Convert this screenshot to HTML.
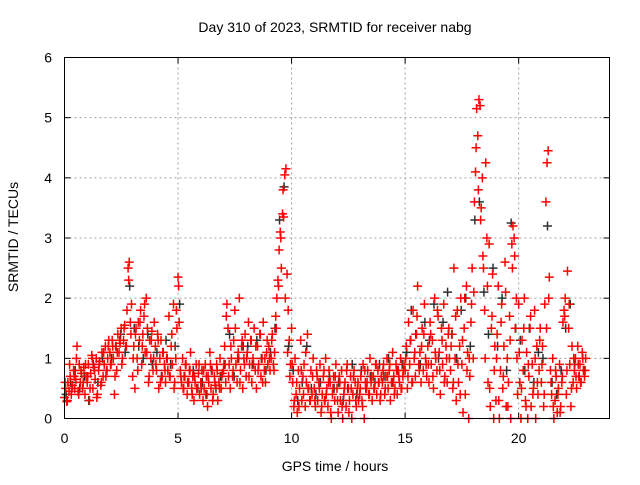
<!DOCTYPE html>
<html><head><meta charset="utf-8"><style>
body{margin:0;background:#fff}
svg text{font-family:"Liberation Sans",sans-serif;fill:#000}
</style></head><body>
<svg id="c" width="640" height="480">
<text x="335" y="32" font-size="14" text-anchor="middle">Day 310 of 2023, SRMTID for receiver nabg</text>
<text x="335" y="471" font-size="14" text-anchor="middle">GPS time / hours</text>
<text transform="translate(18,237) rotate(-90)" font-size="14" text-anchor="middle">SRMTID / TECUs</text>
<g id="grid"></g><g id="ticks"></g><g id="black"></g><g id="red"></g>
<rect x="64.5" y="57.5" width="545" height="361" fill="none" stroke="#000" stroke-width="1"/>
</svg>
<script>
const xTicks=[0,5,10,15,20];
const yTicks=[0,1,2,3,4,5,6];
const sampleInterval=0.05, red2Interval=0.1, blackInterval=0.2;
const redValues=[
[.35,.5,.28,.6,.45,.7,.4,.55,.8,.5,.65,1.2,.45,.9,.6,.75,.5,.85,.4,.7],
[.6,.9,.3,.75,1.05,.5,.85,.65,1.0,.4,.8,.95,.55,1.1,.7,.9,1.2,.8,1.0,1.3],
[1.1,.9,1.3,1.0,.4,1.2,.8,1.4,1.1,1.25,1.5,1.0,1.3,1.55,1.2,1.8,2.5,2.6,1.6,1.9],
[.7,1.2,.5,1.5,1.0,1.6,1.3,1.8,.9,1.4,1.7,1.1,2.0,1.5,.6,1.3,1.0,1.45,.8,1.6],
[1.2,.8,1.4,.5,1.0,1.3,.7,1.1,.9,.6,1.0,.8,1.7,.7,1.2,.9,1.9,.6,1.0,1.5],
[2.35,1.6,.8,.6,1.0,.5,.7,.9,.4,.6,.8,1.1,.5,.7,.3,.6,.9,.5,.75,.4],
[.6,.8,.3,.5,.9,.7,.2,.6,1.1,.5,.8,.4,.7,.55,.9,.3,.6,1.0,.5,.75],
[.8,1.2,.6,1.9,1.5,.9,.5,1.0,.7,1.3,1.8,.9,.6,1.1,2.0,.8,1.2,.5,1.0,1.4],
[.7,1.1,1.6,.9,1.3,.6,1.0,1.5,.8,.5,1.2,.9,1.4,.7,1.0,1.6,.8,.6,1.1,.9],
[1.2,.8,1.0,1.4,.9,1.1,1.7,2.0,2.3,2.8,3.1,2.5,3.4,3.35,4.05,4.15,2.4,1.8,1.3,.9],
[1.5,.6,.2,1.0,.4,.1,.8,.5,1.3,.3,.7,.9,.2,.6,1.4,.5,.3,.8,.4,1.0],
[.5,.2,.8,.3,.6,.9,.1,.4,.7,.3,1.0,.5,.2,.8,.6,.0,.4,.7,.3,.9],
[.5,.1,.7,.3,.8,.0,.4,.6,.2,.9,.5,.3,.7,.0,.4,.8,.6,.2,.5,.3],
[.4,.7,.3,.9,.0,.6,.5,.8,.4,1.0,.6,.3,.7,.5,.9,.4,.8,.6,.3,.7],
[.6,.9,.4,.7,1.0,.5,.8,.3,.6,1.1,.7,.5,.9,.4,.8,.6,1.0,.5,.7,.9],
[.8,1.2,.5,1.6,.9,1.3,.6,1.8,1.0,.7,1.4,2.2,.9,1.1,.6,1.5,.8,1.9,1.0,.7],
[1.2,.6,1.6,.9,1.3,.5,2.0,1.0,.8,1.7,1.1,.4,1.5,.9,1.9,.7,1.2,.6,1.4,1.0],
[.8,1.4,.5,2.5,1.0,.3,1.8,.6,1.2,2.0,.9,.1,1.5,.4,2.2,1.1,.0,.7,1.6,2.5],
[1.0,3.6,4.1,5.15,4.7,5.3,5.2,3.5,4.0,2.5,1.8,4.25,3.0,.6,2.9,.2,1.5,2.4,.0,1.2],
[.3,1.4,2.2,.0,.8,1.9,.5,1.2,2.6,.2,1.0,.6,1.7,.0,2.9,3.2,3.0,1.5,2.0,.4],
[1.9,.6,.0,1.3,.8,2.0,.3,1.1,.0,.7,1.5,.2,.9,.5,1.8,.0,1.2,.4,.8,1.5],
[.6,1.2,.2,1.9,3.6,4.25,4.45,2.35,.8,.4,1.0,.0,.3,.7,.1,.5,.9,.2,.6,1.6],
[1.8,2.0,.4,2.45,1.5,.9,.2,1.2,.6,.8,1.0,.5,1.2,.7,.9,.6,1.1,.8,.7,1.0]];
const red2Values=[
[.6,.3,.9,.5,.7,1.0,.4,.8,.6,.9],[.7,.5,1.0,.8,.35,.9,.6,1.1,.7,1.2],
[.9,1.2,.7,1.1,1.3,.9,1.5,1.2,2.3,1.4],[1.0,1.4,.8,1.6,1.2,1.9,1.1,.7,1.3,1.0],
[.9,1.3,.6,1.1,.8,1.0,.7,1.4,.5,1.8],[2.2,.7,.5,.9,.6,.8,.4,.7,.5,.9],
[.5,.8,.4,.7,.9,.3,.6,.8,.5,.7],[.9,1.7,.7,1.2,.8,1.5,1.0,.6,1.3,.9],
[1.0,.7,1.3,.9,1.2,.8,1.4,.6,1.0,1.3],[1.0,1.3,.8,1.5,2.2,3.0,3.8,2.0,1.1,.7],
[.9,.3,.6,.2,.8,.4,1.1,.5,.3,.7],[.3,.7,.5,.2,.8,.4,.6,.1,.5,.7],
[.3,.6,.2,.5,.8,.1,.5,.7,.3,.6],[.5,.2,.8,.6,.4,.7,.5,.9,.6,.4],
[.8,.5,.7,.9,.6,.4,.8,.7,.5,.8],[1.0,.7,1.3,.6,1.1,1.7,.8,1.2,1.4,.9],
[.9,1.4,.7,1.1,1.8,.8,1.3,.6,1.0,1.5],[1.2,.6,1.7,.9,.4,1.3,2.0,.8,1.0,1.9],
[2.1,4.5,3.8,3.3,2.7,1.0,2.2,.5,1.7,.8],[1.0,.3,1.6,.7,2.1,.2,1.3,2.5,2.7,1.0],
[1.1,.5,1.5,.2,.9,1.7,.4,1.0,.6,1.3],[.9,.4,1.5,2.0,.6,.2,.8,.4,.1,.7],
[1.7,.8,1.9,.5,1.0,.7,.9,.6,1.0,.8]];
const blackValues=[
[.4,.6,.8,.5,.7],[.3,.9,.6,1.0,.8],[1.0,1.2,1.4,1.1,2.2],[1.5,1.2,1.0,1.4,.9],
[1.1,.7,1.3,.9,1.2],[1.9,.7,.6,.8,.5],[.6,.4,.8,.5,.7],[.9,1.4,.7,1.0,1.2],
[1.2,.9,1.3,1.0,.8],[1.1,1.5,3.3,3.85,1.2],[.8,.3,.6,1.2,.5],[.4,.6,.3,.7,.5],
[.6,.3,.5,.9,.4],[.8,.5,.7,.6,.9],[.7,1.0,.6,.8,.9],[1.1,1.8,1.4,.9,1.6],
[1.3,1.9,1.0,1.6,2.1],[1.4,1.0,1.8,2.0,1.2],[3.3,3.6,2.1,1.4,2.5],[1.2,2.0,.8,3.25,1.5],
[1.3,.8,1.5,.6,1.1],[1.0,3.2,.6,.4,.8],[1.5,1.9,.9,.7,.8]];

const X0=64.5,X1=609.5,Y0=418.5,Y1=57.5,XMAX=24,YMAX=6;
const sx=t=>X0+(X1-X0)*t/XMAX, sy=v=>Y0-(Y0-Y1)*v/YMAX;
const NS='http://www.w3.org/2000/svg';
function mk(tag,parent){const e=document.createElementNS(NS,tag);parent.appendChild(e);return e;}
const grid=document.getElementById('grid'),ticks=document.getElementById('ticks');
xTicks.forEach(t=>{
  const x=sx(t);
  if(t>0){const l=mk('line',grid);l.setAttribute('x1',x);l.setAttribute('x2',x);l.setAttribute('y1',Y1);l.setAttribute('y2',Y0);l.setAttribute('stroke','#a0a0a0');l.setAttribute('stroke-dasharray','2,3');
  
  }
  [[Y0,Y0-6],[Y1,Y1+6]].forEach(p=>{const k=mk('line',ticks);k.setAttribute('x1',x);k.setAttribute('x2',x);k.setAttribute('y1',p[0]);k.setAttribute('y2',p[1]);k.setAttribute('stroke','#000');
  
  });
  const tx=mk('text',ticks);tx.setAttribute('x',x);tx.setAttribute('y',443);tx.setAttribute('font-size','14');tx.setAttribute('text-anchor','middle');tx.textContent=t;
  
  
});
yTicks.forEach(v=>{
  const y=sy(v);
  if(v>0&&v<YMAX){const l=mk('line',grid);l.setAttribute('x1',X0);l.setAttribute('x2',X1);l.setAttribute('y1',y);l.setAttribute('y2',y);l.setAttribute('stroke','#a0a0a0');l.setAttribute('stroke-dasharray','2,3');
  
  }
  [[X0,X0+6],[X1,X1-6]].forEach(p=>{const k=mk('line',ticks);k.setAttribute('x1',p[0]);k.setAttribute('x2',p[1]);k.setAttribute('y1',y);k.setAttribute('y2',y);k.setAttribute('stroke','#000');
  
  });
  const tx=mk('text',ticks);tx.setAttribute('x',52);tx.setAttribute('y',y+5);tx.setAttribute('font-size','14');tx.setAttribute('text-anchor','end');tx.textContent=v;
  
  
});
function plot(arr,interval,offset,color,gid,name){
  const g=document.getElementById(gid);let d='';
  arr.forEach((row,h)=>row.forEach((v,i)=>{
    const x=sx(h+offset+i*interval),y=sy(v);
    d+=`M${x-4.5},${y}h9M${x},${y-4.5}v9`;
  }));
  const p=mk('path',g);p.setAttribute('d',d);p.setAttribute('stroke',color);p.setAttribute('stroke-width','1.5');p.setAttribute('fill','none');
  
  
}
plot(blackValues,blackInterval,0.07,'#303030','black','black-series-points');
plot(redValues,sampleInterval,0,'#ff0000','red','red-series-points');
plot(red2Values,red2Interval,0.025,'#ff0000','red','red-series-points-2');
</script>
</body></html>
